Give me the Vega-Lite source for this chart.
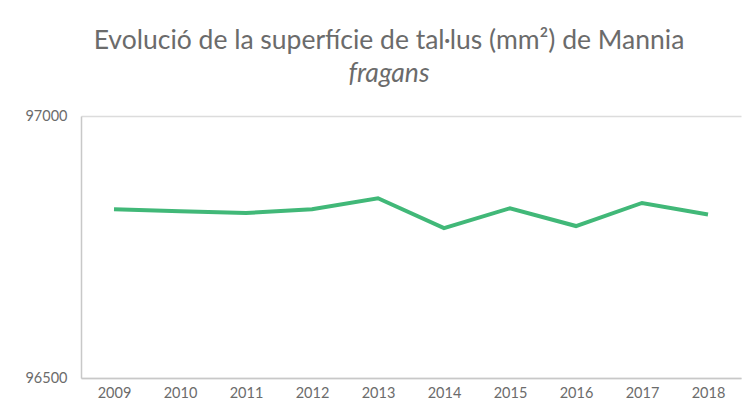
{
  "$schema": "https://vega.github.io/schema/vega-lite/v6.json",
  "width": 660,
  "height": 262,
  "padding": {"left": 24, "right": 13, "top": 28, "bottom": 11},
  "background": "#ffffff",
  "title": {
    "text": "Evolució de la superfície de tal·lus (mm²) de Mannia",
    "subtitle": "fragans",
    "anchor": "middle",
    "frame": "group",
    "dx": -22,
    "font": "Lato",
    "fontSize": 26.5,
    "fontWeight": "normal",
    "color": "#6b6b6b",
    "subtitleFont": "Lato",
    "subtitleFontSize": 26.5,
    "subtitleFontStyle": "italic",
    "subtitleColor": "#6b6b6b",
    "subtitlePadding": 6,
    "offset": 21
  },
  "data": {
    "values": [
      {"year": "2009", "value": 96822},
      {"year": "2010", "value": 96818},
      {"year": "2011", "value": 96815},
      {"year": "2012", "value": 96822},
      {"year": "2013", "value": 96843},
      {"year": "2014", "value": 96786},
      {"year": "2015", "value": 96824},
      {"year": "2016", "value": 96790},
      {"year": "2017", "value": 96834},
      {"year": "2018", "value": 96812}
    ]
  },
  "mark": {"type": "line", "color": "#41b878", "strokeWidth": 4, "strokeJoin": "miter"},
  "encoding": {
    "x": {
      "field": "year",
      "type": "ordinal",
      "scale": {"type": "point", "padding": 0.5},
      "axis": {
        "title": null,
        "labelAngle": 0,
        "labelFont": "Lato",
        "labelFontSize": 14.5,
        "labelColor": "#6b6b6b",
        "labelPadding": 8,
        "ticks": false,
        "domainColor": "#c8c8c8",
        "domainWidth": 1.5,
        "grid": false
      }
    },
    "y": {
      "field": "value",
      "type": "quantitative",
      "scale": {"domain": [96500, 97000], "zero": false, "nice": false},
      "axis": {
        "title": null,
        "values": [96500, 97000],
        "format": "d",
        "labelFont": "Lato",
        "labelFontSize": 14.5,
        "labelColor": "#6b6b6b",
        "labelPadding": 14,
        "ticks": false,
        "domainColor": "#c8c8c8",
        "domainWidth": 1.5,
        "grid": true,
        "gridColor": "#dcdcdc",
        "gridWidth": 1.5
      }
    }
  },
  "config": {"view": {"stroke": null}}
}
